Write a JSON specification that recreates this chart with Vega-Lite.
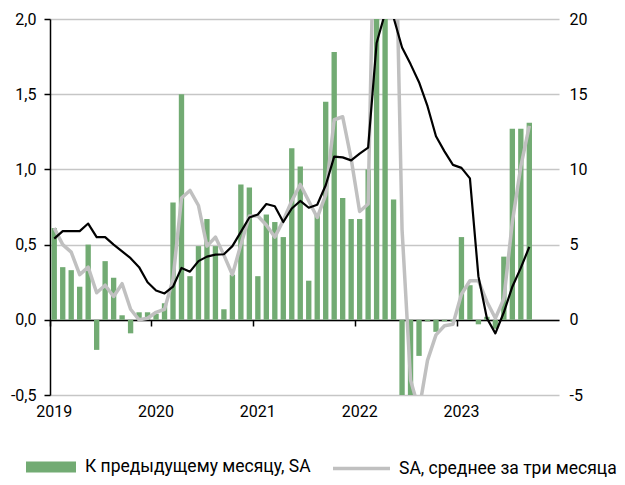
{
  "$schema": "https://vega.github.io/schema/vega-lite/v6.json",
  "width": 509,
  "height": 376,
  "autosize": {"type": "none"},
  "padding": {"left": 50, "top": 19, "right": 66, "bottom": 90},
  "background": "white",
  "config": {
    "view": {"stroke": null},
    "font": "Roboto",
    "axis": {"labelFont": "Roboto", "labelFontSize": 16, "labelColor": "#000000"},
    "legend": {"labelFont": "Roboto", "labelFontSize": 17.5, "labelColor": "#000000", "labelLimit": 0}
  },
  "data": {
    "values": [
      {"m": "2019-01", "bar": 0.61, "avg": 0.61, "blk": 5.4},
      {"m": "2019-02", "bar": 0.35, "avg": 0.50, "blk": 5.9},
      {"m": "2019-03", "bar": 0.33, "avg": 0.45, "blk": 5.9},
      {"m": "2019-04", "bar": 0.22, "avg": 0.30, "blk": 5.9},
      {"m": "2019-05", "bar": 0.50, "avg": 0.35, "blk": 6.4},
      {"m": "2019-06", "bar": -0.20, "avg": 0.18, "blk": 5.5},
      {"m": "2019-07", "bar": 0.39, "avg": 0.23, "blk": 5.5},
      {"m": "2019-08", "bar": 0.28, "avg": 0.155, "blk": 5.0},
      {"m": "2019-09", "bar": 0.03, "avg": 0.24, "blk": 4.55},
      {"m": "2019-10", "bar": -0.09, "avg": 0.07, "blk": 4.1},
      {"m": "2019-11", "bar": 0.05, "avg": 0.0, "blk": 3.5},
      {"m": "2019-12", "bar": 0.05, "avg": 0.01, "blk": 2.5},
      {"m": "2020-01", "bar": 0.04, "avg": 0.05, "blk": 1.95},
      {"m": "2020-02", "bar": 0.11, "avg": 0.07, "blk": 1.75},
      {"m": "2020-03", "bar": 0.78, "avg": 0.27, "blk": 2.2},
      {"m": "2020-04", "bar": 1.50, "avg": 0.81, "blk": 3.45},
      {"m": "2020-05", "bar": 0.29, "avg": 0.86, "blk": 3.2},
      {"m": "2020-06", "bar": 0.49, "avg": 0.76, "blk": 3.9},
      {"m": "2020-07", "bar": 0.67, "avg": 0.49, "blk": 4.2},
      {"m": "2020-08", "bar": 0.49, "avg": 0.55, "blk": 4.33},
      {"m": "2020-09", "bar": 0.07, "avg": 0.43, "blk": 4.36},
      {"m": "2020-10", "bar": 0.30, "avg": 0.30, "blk": 4.9},
      {"m": "2020-11", "bar": 0.90, "avg": 0.50, "blk": 5.85},
      {"m": "2020-12", "bar": 0.88, "avg": 0.69, "blk": 6.8},
      {"m": "2021-01", "bar": 0.29, "avg": 0.69, "blk": 7.0},
      {"m": "2021-02", "bar": 0.70, "avg": 0.63, "blk": 7.7},
      {"m": "2021-03", "bar": 0.65, "avg": 0.55, "blk": 7.55},
      {"m": "2021-04", "bar": 0.55, "avg": 0.66, "blk": 6.5},
      {"m": "2021-05", "bar": 1.14, "avg": 0.79, "blk": 7.4},
      {"m": "2021-06", "bar": 1.02, "avg": 0.90, "blk": 7.9},
      {"m": "2021-07", "bar": 0.26, "avg": 0.79, "blk": 7.45},
      {"m": "2021-08", "bar": 0.70, "avg": 0.68, "blk": 7.65},
      {"m": "2021-09", "bar": 1.45, "avg": 0.83, "blk": 8.95},
      {"m": "2021-10", "bar": 1.78, "avg": 1.33, "blk": 10.85},
      {"m": "2021-11", "bar": 0.81, "avg": 1.35, "blk": 10.8},
      {"m": "2021-12", "bar": 0.67, "avg": 1.07, "blk": 10.6},
      {"m": "2022-01", "bar": 0.67, "avg": 0.72, "blk": 11.05},
      {"m": "2022-02", "bar": 1.00, "avg": 0.77, "blk": 11.45},
      {"m": "2022-03", "bar": 2.6, "avg": 3.5, "blk": 18.4},
      {"m": "2022-04", "bar": 2.4, "avg": 4.0, "blk": 20.4},
      {"m": "2022-05", "bar": 0.80, "avg": 3.3, "blk": 20.1},
      {"m": "2022-06", "bar": -0.7, "avg": 0.6, "blk": 18.1},
      {"m": "2022-07", "bar": -0.6, "avg": -0.4, "blk": 17.0},
      {"m": "2022-08", "bar": -0.24, "avg": -0.6, "blk": 15.8},
      {"m": "2022-09", "bar": -0.01, "avg": -0.27, "blk": 14.2},
      {"m": "2022-10", "bar": -0.08, "avg": -0.10, "blk": 12.2},
      {"m": "2022-11", "bar": -0.01, "avg": -0.04, "blk": 11.2},
      {"m": "2022-12", "bar": -0.01, "avg": -0.03, "blk": 10.3},
      {"m": "2023-01", "bar": 0.55, "avg": 0.17, "blk": 10.1},
      {"m": "2023-02", "bar": 0.23, "avg": 0.26, "blk": 9.4},
      {"m": "2023-03", "bar": -0.03, "avg": 0.26, "blk": 2.9},
      {"m": "2023-04", "bar": 0.02, "avg": 0.12, "blk": 0.1},
      {"m": "2023-05", "bar": -0.06, "avg": 0.01, "blk": -0.9},
      {"m": "2023-06", "bar": 0.42, "avg": 0.14, "blk": 0.5},
      {"m": "2023-07", "bar": 1.27, "avg": 0.65, "blk": 2.2},
      {"m": "2023-08", "bar": 1.27, "avg": 1.02, "blk": 3.45},
      {"m": "2023-09", "bar": 1.31, "avg": 1.29, "blk": 4.85}
    ]
  },
  "encoding": {
    "x": {
      "field": "m",
      "type": "ordinal",
      "sort": null,
      "scale": {
        "domain": ["2019-01","2019-02","2019-03","2019-04","2019-05","2019-06","2019-07","2019-08","2019-09","2019-10","2019-11","2019-12",
                   "2020-01","2020-02","2020-03","2020-04","2020-05","2020-06","2020-07","2020-08","2020-09","2020-10","2020-11","2020-12",
                   "2021-01","2021-02","2021-03","2021-04","2021-05","2021-06","2021-07","2021-08","2021-09","2021-10","2021-11","2021-12",
                   "2022-01","2022-02","2022-03","2022-04","2022-05","2022-06","2022-07","2022-08","2022-09","2022-10","2022-11","2022-12",
                   "2023-01","2023-02","2023-03","2023-04","2023-05","2023-06","2023-07","2023-08","2023-09","2023-10","2023-11","2023-12"],
        "paddingInner": 0.37,
        "paddingOuter": 0.185
      },
      "axis": {
        "orient": "bottom",
        "offset": -75,
        "values": ["2019-01","2020-01","2021-01","2022-01","2023-01"],
        "labelExpr": "slice(datum.value, 0, 4)",
        "bandPosition": -0.29,
        "labelAngle": 0,
        "tickSize": 6,
        "tickColor": "#000000",
        "tickWidth": 1.5,
        "domainColor": "#000000",
        "domainWidth": 1.5,
        "labelPadding": 77,
        "grid": false,
        "title": null
      }
    }
  },
  "layer": [
    {
      "layer": [
        {
          "mark": {"type": "bar", "clip": true},
          "encoding": {
            "y": {
              "field": "bar",
              "type": "quantitative",
              "scale": {"domain": [-0.5, 2.0], "nice": false, "zero": false},
              "axis": {
                "orient": "left",
                "values": [-0.5, 0, 0.5, 1, 1.5, 2],
                "labelExpr": "(datum.value < 0 ? '-' : '') + replace(format(abs(datum.value), '.1f'), '.', ',')",
                "grid": true,
                "gridColor": "#c6c6c6",
                "gridWidth": 1.5,
                "domainColor": "#000000",
                "domainWidth": 1.5,
                "tickColor": "#000000",
                "tickWidth": 1.5,
                "tickSize": 6,
                "labelPadding": 8,
                "title": null
              }
            },
            "fill": {
              "datum": "К предыдущему месяцу, SA",
              "type": "nominal",
              "scale": {"range": ["#72ab73"]},
              "legend": {
                "orient": "none",
                "legendX": -24,
                "legendY": 423,
                "title": null,
                "padding": 0,
                "symbolType": "M-1,-0.22H1V0.22H-1Z",
                "symbolSize": 2500,
                "symbolStrokeWidth": 0,
                "symbolOpacity": 1,
                "labelOffset": 9,
                "labelLimit": 0
              }
            }
          }
        },
        {
          "mark": {"type": "line", "clip": true, "strokeWidth": 3.5, "strokeJoin": "round"},
          "encoding": {
            "y": {"field": "avg", "type": "quantitative"},
            "stroke": {
              "datum": "SA, среднее за три месяца",
              "type": "nominal",
              "scale": {"range": ["#c0c0c0"]},
              "legend": {
                "orient": "none",
                "legendX": 281,
                "legendY": 419,
                "title": null,
                "padding": 0,
                "symbolType": "stroke",
                "symbolSize": 3250,
                "symbolStrokeWidth": 3.5,
                "labelOffset": 7,
                "labelLimit": 0
              }
            }
          }
        }
      ]
    },
    {
      "mark": {"type": "line", "clip": true, "color": "#000000", "strokeWidth": 2.2, "strokeJoin": "round"},
      "encoding": {
        "y": {
          "field": "blk",
          "type": "quantitative",
          "scale": {"domain": [-5, 20], "nice": false, "zero": false},
          "axis": {
            "orient": "right",
            "values": [-5, 0, 5, 10, 15, 20],
            "labelExpr": "(datum.value < 0 ? '-' : '') + format(abs(datum.value), 'd')",
            "grid": false,
            "domain": false,
            "ticks": false,
            "labelPadding": 10,
            "title": null
          }
        }
      }
    }
  ],
  "resolve": {"scale": {"y": "independent"}}
}
